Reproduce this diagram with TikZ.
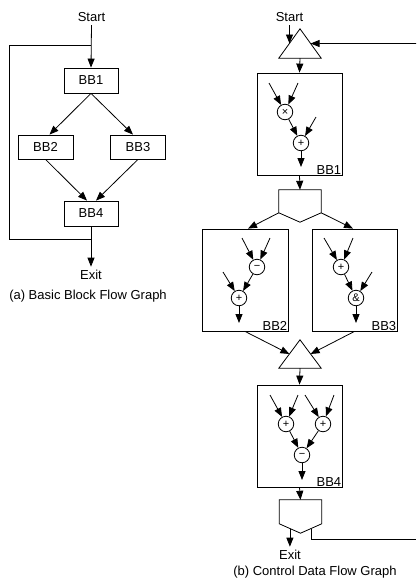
\documentclass[tikz,border=0pt]{standalone}
\usepackage{fontspec}
\setmainfont{Liberation Sans}
\usetikzlibrary{arrows.meta,calc}
\begin{document}
\begin{tikzpicture}[x=1pt,y=-1pt,
  every node/.style={font=\fontsize{13}{15}\selectfont},
  line/.style={line width=0.8pt},
  arr/.style={line width=0.8pt,-{Triangle[length=9pt,width=7pt]}},
  bb/.style={draw,line width=0.8pt,minimum width=54pt,minimum height=25pt,inner sep=0pt},
  blk/.style={draw,line width=0.8pt,minimum width=85pt,minimum height=102pt,inner sep=0pt},
  shp/.style={minimum width=42pt,minimum height=#1,inner sep=0pt},
  op/.style={draw,circle,line width=0.8pt,minimum size=15.5pt,inner sep=0pt,font=\fontsize{11}{11}\selectfont},
  lbl/.style={anchor=south east,inner sep=1pt}]
\useasboundingbox (0,0) rectangle (416,579);
% ---------- (a) ----------
\node (as) at (91.5,17) {Start};
\node[bb] (a1) at (91,80.5) {BB1};
\node[bb,minimum width=55pt,minimum height=24pt] (a2) at (45.5,147) {BB2};
\node[bb,minimum width=55pt,minimum height=24pt] (a3) at (138,147) {BB3};
\node[bb] (a4) at (91,213.5) {BB4};
\node (ae) at (91,275) {Exit};
\node (acap) at (88,296) {(a) Basic Block Flow Graph};
\coordinate (lt) at (9,45);
\coordinate (lb) at (9,239);
\draw[arr] (as.south) -- (a1.north);
\draw[arr] (a1.south) -- ($(a2.north)+(4,0)$);
\draw[arr] (a1.south) -- ($(a3.north)+(-5,0)$);
\draw[arr] (a2.south) -- ($(a4.north)+(-4,0)$);
\draw[arr] (a3.south) -- ($(a4.north)+(5,0)$);
\draw[arr] (a4.south) -- (ae.north);
\draw[line] (a4.south |- lb) -- (lb) -- (lt) -- (a1.north |- lt);
% ---------- (b) ----------
\node (bs) at (289.5,17) {Start};
\node[shp=29pt] (t1) at (300,43.5) {};
\draw[line] (t1.south west) -- (t1.north) -- (t1.south east) -- cycle;
\coordinate (t1l) at ($(t1.south west)!0.5!(t1.north)$);
\coordinate (t1r) at ($(t1.south east)!0.5!(t1.north)$);
\coordinate (fbt) at (416,43.5);
\draw[arr] (bs.south) -- (bs.south |- t1l);
\draw[arr] (fbt) -- (t1r);
% BB1
\node[blk] (b1) at (299.5,124) {};
\node[lbl] at (b1.south east) {BB1};
\draw[arr] (t1.south) -- (b1.north);
\node[op] (x1) at (285,112) {×};
\node[op] (p1) at (301,143) {+};
\coordinate (i11) at (269,83);
\coordinate (i12) at (298,83);
\coordinate (i13) at (316,117);
\coordinate (o1) at (301,167);
\draw[arr] (i11) -- (x1);
\draw[arr] (i12) -- (x1);
\draw[arr] (x1) -- (p1);
\draw[arr] (i13) -- (p1);
\draw[arr] (p1) -- (o1);
% branch 1
\node[shp=32pt] (br1) at (300,206) {};
\coordinate (br1l) at ($(br1.north west)+(0,23)$);
\coordinate (br1r) at ($(br1.north east)+(0,23)$);
\draw[line] (br1.north west) -- (br1.north east) -- (br1r) -- (br1.south) -- (br1l) -- cycle;
\draw[arr] (b1.south) -- (br1.north);
% BB2, BB3
\node[blk,minimum width=86pt] (b2) at (245,280) {};
\node[lbl] at (b2.south east) {BB2};
\node[blk] (b3) at (354.5,280) {};
\node[lbl] at (b3.south east) {BB3};
\draw[arr] (br1l) -- ($(b2.north)+(3,0)$);
\draw[arr] (br1r) -- ($(b3.north)+(-1.5,0)$);
\node[op] (m2) at (257,267) {−};
\node[op] (p2) at (239,298) {+};
\coordinate (i21) at (242,238);
\coordinate (i22) at (270,238);
\coordinate (i23) at (223,272);
\coordinate (o2) at (239,323);
\draw[arr] (i21) -- (m2);
\draw[arr] (i22) -- (m2);
\draw[arr] (m2) -- (p2);
\draw[arr] (i23) -- (p2);
\draw[arr] (p2) -- (o2);
\node[op] (p3) at (341,267) {+};
\node[op] (a3o) at (356,298) {\&};
\coordinate (i31) at (324,238);
\coordinate (i32) at (353,238);
\coordinate (i33) at (372,272);
\coordinate (o3) at (356,323);
\draw[arr] (i31) -- (p3);
\draw[arr] (i32) -- (p3);
\draw[arr] (p3) -- (a3o);
\draw[arr] (i33) -- (a3o);
\draw[arr] (a3o) -- (o3);
% merge
\node[shp=28pt] (t2) at (300,354) {};
\draw[line] (t2.south west) -- (t2.north) -- (t2.south east) -- cycle;
\coordinate (t2l) at ($(t2.south west)!0.5!(t2.north)$);
\coordinate (t2r) at ($(t2.south east)!0.5!(t2.north)$);
\draw[arr] (b2.south) -- (t2l);
\draw[arr] (b3.south) -- (t2r);
% BB4
\node[blk] (b4) at (299.5,436) {};
\node[lbl] at (b4.south east) {BB4};
\draw[arr] (t2.south) -- (b4.north);
\node[op] (p41) at (286,424) {+};
\node[op] (p42) at (323,424) {+};
\node[op] (m4) at (302,455) {−};
\coordinate (i41) at (270,395);
\coordinate (i42) at (298,395);
\coordinate (i43) at (305,395);
\coordinate (i44) at (334,395);
\coordinate (o4) at (302,480);
\draw[arr] (i41) -- (p41);
\draw[arr] (i42) -- (p41);
\draw[arr] (i43) -- (p42);
\draw[arr] (i44) -- (p42);
\draw[arr] (p41) -- (m4);
\draw[arr] (p42) -- (m4);
\draw[arr] (m4) -- (o4);
% branch 2
\node[shp=33pt] (br2) at (300.5,516.5) {};
\coordinate (br2l) at ($(br2.north west)+(0,24)$);
\coordinate (br2r) at ($(br2.north east)+(0,24)$);
\draw[line] (br2.north west) -- (br2.north east) -- (br2r) -- (br2.south) -- (br2l) -- cycle;
\draw[arr] (b4.south) -- (br2.north);
\node (be) at (290,555) {Exit};
\coordinate (ex) at ($(br2l)!0.5!(br2.south)$);
\coordinate (fx) at ($(br2r)!0.5!(br2.south)$);
\coordinate (fbb) at (416,539);
\draw[arr] (ex) -- (ex |- be.north);
\draw[line] (fx) |- (fbb);
\node (bcap) at (315,572) {(b) Control Data Flow Graph};
\end{tikzpicture}
\end{document}
